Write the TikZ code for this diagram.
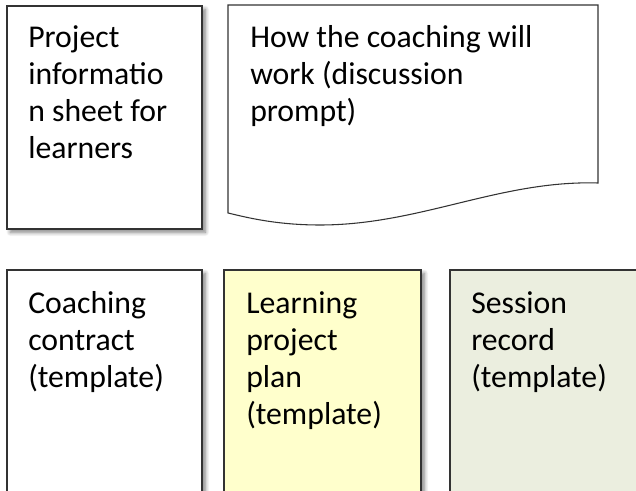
\documentclass[tikz,border=0pt]{standalone}
\usepackage{fontspec}
\setmainfont{Carlito}
\usetikzlibrary{shadows.blur}

\begin{document}
\begin{tikzpicture}[x=0.75pt,y=-0.75pt,
    sheet/.style={draw=black!80, line width=0.8pt},
    shade/.style={blur shadow={shadow xshift=2.5pt, shadow yshift=-2.5pt, shadow blur steps=8, shadow blur radius=3pt, shadow opacity=50}},
    words/.style={anchor=north west, inner sep=0pt, align=left, font=\fontsize{23.8}{27.8}\selectfont}]
    % Page area
    \useasboundingbox (0,0) rectangle (636,491);
    \clip (0,0) rectangle (636,491);

    % Top row: information sheet and discussion prompt
    \draw[sheet, fill=white, shade] (7,6) rectangle (202,229); % plain card
    \node[words] (info) at (28,25) {Project\\informatio\\n sheet for\\learners};

    \draw[sheet, fill=white] (228,5) -- (598,5) -- (598,183)
        .. controls (500,180) and (420,225) .. (320,225)
        .. controls (275,225) and (245,217) .. (228,213) -- cycle; % wavy document
    \node[words] (prompt) at (250,25) {How the coaching will\\work (discussion\\prompt)};

    % Bottom row: the three templates
    \draw[sheet, fill=white, shade] (7,270) rectangle (202,520);
    \node[words] (contract) at (28,291) {Coaching\\contract\\(template)};

    \draw[sheet, fill={rgb,255:red,255;green,255;blue,204}, shade] (224,270) rectangle (421,520);
    \node[words] (plan) at (246,291) {Learning\\project\\plan\\(template)};

    \draw[sheet, fill={rgb,255:red,235;green,238;blue,223}, shade] (450,270) rectangle (680,520);
    \node[words] (record) at (471,291) {Session\\record\\(template)};

\end{tikzpicture}
\end{document}
